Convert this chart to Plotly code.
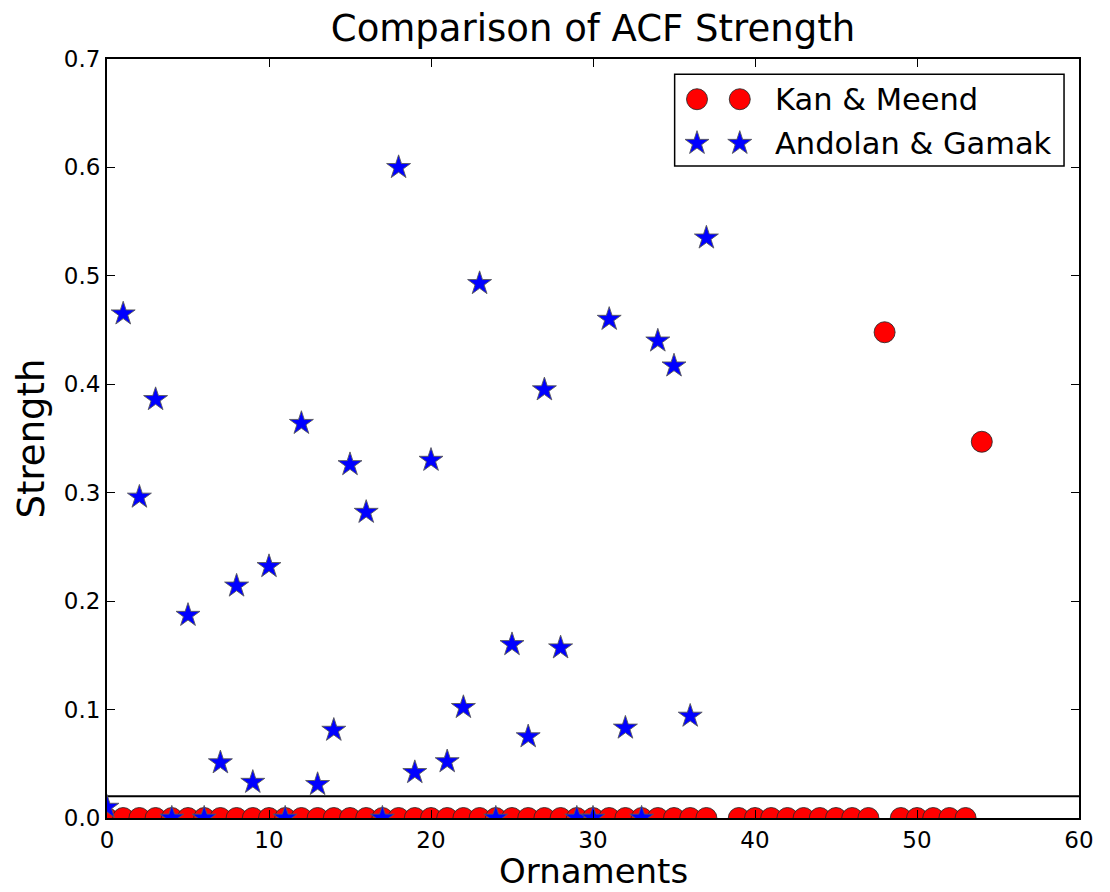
import plotly.graph_objects as go

# Ornament indices and ACF strength per group
kan_x = [0, 1, 2, 3, 4, 5, 6, 7, 8, 9, 10, 11, 12, 13, 14, 15, 16, 17, 18, 19,
         20, 21, 22, 23, 24, 25, 26, 27, 28, 29, 30, 31, 32, 33, 34, 35, 36, 37,
         39, 40, 41, 42, 43, 44, 45, 46, 47, 48, 49, 50, 51, 52, 53, 54]
kan_y = [0.0] * 38 + [0.0, 0.0, 0.0, 0.0, 0.0, 0.0, 0.0, 0.0, 0.0,
                      0.448, 0.0, 0.0, 0.0, 0.0, 0.0, 0.347]

andolan_x = [0, 1, 2, 3, 4, 5, 6, 7, 8, 9, 10, 11, 12, 13, 14, 15, 16, 17, 18,
             19, 20, 21, 22, 23, 24, 25, 26, 27, 28, 29, 30, 31, 32, 33, 34, 35,
             36, 37]
andolan_y = [0.010, 0.465, 0.296, 0.386, 0.0, 0.187, 0.0, 0.051, 0.214, 0.033,
             0.232, 0.0, 0.364, 0.031, 0.081, 0.326, 0.282, 0.0, 0.600, 0.042,
             0.330, 0.052, 0.102, 0.493, 0.0, 0.160, 0.075, 0.395, 0.157, 0.0,
             0.0, 0.460, 0.083, 0.0, 0.440, 0.417, 0.094, 0.535]

threshold = 0.02
x_limits = [0, 60]
y_limits = [0, 0.7]

series_names = ["Kan & Meend", "Andolan & Gamak"]
x_title = "Ornaments"

FONT = "DejaVu Sans"
RED = "#ff0000"
BLUE = "#0000ff"
EDGE = "rgba(40,40,40,0.85)"
STAR_EDGE = "rgba(90,90,90,0.9)"
CIRCLE_SIZE = 21
STAR_SIZE = 18

fig = go.Figure()

fig.add_trace(go.Scatter(
    x=x_limits, y=[threshold, threshold], mode="lines",
    line=dict(color="black", width=2), showlegend=False, hoverinfo="skip"))

fig.add_trace(go.Scatter(
    x=kan_x, y=kan_y, mode="markers", name=series_names[0], showlegend=False,
    marker=dict(symbol="circle", size=CIRCLE_SIZE, color=RED,
                line=dict(color=EDGE, width=1))))

fig.add_trace(go.Scatter(
    x=andolan_x, y=andolan_y, mode="markers", name=series_names[1], showlegend=False,
    marker=dict(symbol="star", size=STAR_SIZE, color=BLUE,
                line=dict(color=STAR_EDGE, width=1))))

# Legend: box, paired glyphs and labels laid out in paper space
leg_x0, leg_x1 = 0.584, 0.9846
leg_y0, leg_y1 = 0.859, 0.980
row_y = [0.947, 0.889]
glyph_x = [0.607, 0.651]
text_x = 0.685

fig.add_shape(type="rect", xref="paper", yref="paper",
              x0=leg_x0, x1=leg_x1, y0=leg_y0, y1=leg_y1,
              line=dict(color="black", width=1.5), fillcolor="white", layer="below")

fig.add_trace(go.Scatter(
    x=glyph_x, y=[row_y[0]] * 2, xaxis="x2", yaxis="y2", mode="markers",
    showlegend=False, hoverinfo="skip", cliponaxis=False,
    marker=dict(symbol="circle", size=CIRCLE_SIZE, color=RED,
                line=dict(color=EDGE, width=1))))
fig.add_trace(go.Scatter(
    x=glyph_x, y=[row_y[1]] * 2, xaxis="x2", yaxis="y2", mode="markers",
    showlegend=False, hoverinfo="skip", cliponaxis=False,
    marker=dict(symbol="star", size=STAR_SIZE, color=BLUE,
                line=dict(color=STAR_EDGE, width=1))))

for name, ry in zip(series_names, row_y):
    fig.add_annotation(x=text_x, y=ry, xref="paper", yref="paper", text=name,
                       showarrow=False, xanchor="left", yanchor="middle",
                       font=dict(family=FONT, size=30.5, color="black"))

# x-axis title placed just under the tick labels
fig.add_annotation(x=0.5, y=-0.0972, xref="paper", yref="paper", text=x_title,
                   showarrow=False, xanchor="center", yanchor="bottom",
                   borderpad=0, font=dict(family=FONT, size=34, color="black"))

axis_common = dict(showline=True, linecolor="black", linewidth=2, mirror="ticks",
                   ticks="inside", ticklen=8, tickwidth=1, tickcolor="black",
                   showgrid=False, zeroline=False, automargin=False,
                   tickfont=dict(family=FONT, size=23, color="black"))

fig.update_layout(
    width=1110, height=892,
    margin=dict(l=107, r=31, t=59, b=74, autoexpand=False),
    paper_bgcolor="white", plot_bgcolor="white",
    title=dict(text="Comparison of ACF Strength", x=0.5, xref="paper",
               xanchor="center", y=0.969, yanchor="middle",
               font=dict(family=FONT, size=37, color="black")),
    xaxis=dict(range=x_limits, dtick=10, tick0=0, **axis_common),
    yaxis=dict(range=y_limits, dtick=0.1, tick0=0, tickformat=".1f",
               title=dict(text="Strength", standoff=8,
                          font=dict(family=FONT, size=37, color="black")),
               **axis_common),
    xaxis2=dict(overlaying="x", range=[0, 1], visible=False, anchor="y2"),
    yaxis2=dict(overlaying="y", range=[0, 1], visible=False, anchor="x2"),
    showlegend=False,
)

fig.write_html("out.html")
